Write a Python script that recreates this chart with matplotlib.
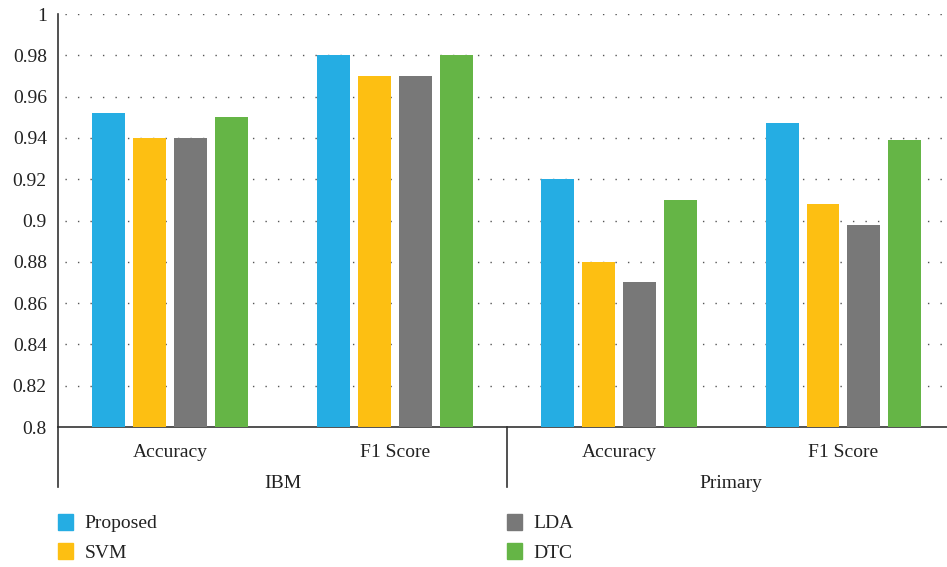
import numpy as np
import matplotlib.pyplot as plt
from matplotlib.patches import Patch

plt.rcParams['font.family'] = ['Liberation Serif', 'DejaVu Serif']

groups = ['IBM', 'Primary']
metrics = ['Accuracy', 'F1 Score', 'Accuracy', 'F1 Score']
methods = ['Proposed', 'SVM', 'LDA', 'DTC']
proposed = [0.952, 0.98, 0.92, 0.947]
svm = [0.94, 0.97, 0.88, 0.908]
lda = [0.94, 0.97, 0.87, 0.898]
dtc = [0.95, 0.98, 0.91, 0.939]
colors = ['#25ADE3', '#FDBF12', '#787878', '#65B546']

fig = plt.figure(figsize=(9.47, 5.67), dpi=100)
ax = fig.add_axes([0.0612, 0.2469, 0.948, 0.7284])

x = np.arange(len(metrics))
step = 0.1826
width = 0.147
series = [proposed, svm, lda, dtc]
for i, vals in enumerate(series):
    ax.bar(x + (i - 1.5) * step, vals, width, color=colors[i], label=methods[i], zorder=3)

ax.set_xlim(-0.5, len(metrics) - 0.5)
ax.set_ylim(0.8, 1.0)
yt = np.arange(0.8, 1.001, 0.02)
ax.set_yticks(yt)
ax.set_yticklabels(['0.8', '0.82', '0.84', '0.86', '0.88', '0.9', '0.92', '0.94', '0.96', '0.98', '1'])
ax.tick_params(axis='y', length=0, labelsize=14, pad=8, colors='#222222')
ax.set_xticks(x)
ax.set_xticklabels(metrics)
ax.tick_params(axis='x', length=0, labelsize=14, pad=12, colors='#222222')

for v in yt[1:]:
    ax.axhline(v, color='#555555', linestyle=(4, (1, 8)), linewidth=1.0, zorder=1)

for s in ['top', 'right']:
    ax.spines[s].set_visible(False)
ax.spines['left'].set_color('#333333')
ax.spines['bottom'].set_color('#333333')
ax.spines['left'].set_linewidth(1.2)
ax.spines['bottom'].set_linewidth(1.2)

# group separators below the axis
for xs in [-0.5, 1.5]:
    ax.plot([xs, xs], [0, -0.145], transform=ax.get_xaxis_transform(),
            color='#333333', linewidth=1.2, clip_on=False)
for gi, g in enumerate(groups):
    ax.text(gi * 2 + 0.5, -0.137, g, transform=ax.get_xaxis_transform(),
            ha='center', va='center', fontsize=14, color='#222222')

handles = [Patch(color=c) for c in colors]
for col, x0 in enumerate([58, 507]):
    fig.legend(handles[2 * col:2 * col + 2], methods[2 * col:2 * col + 2],
               loc='upper left', bbox_to_anchor=(x0 / 947, 1 - 514 / 567),
               ncol=1, frameon=False, fontsize=14, borderpad=0, borderaxespad=0,
               handlelength=0.78, handleheight=0.85, handletextpad=0.6,
               labelspacing=0.55, labelcolor='#222222')

fig.savefig('out.png', dpi=100)
